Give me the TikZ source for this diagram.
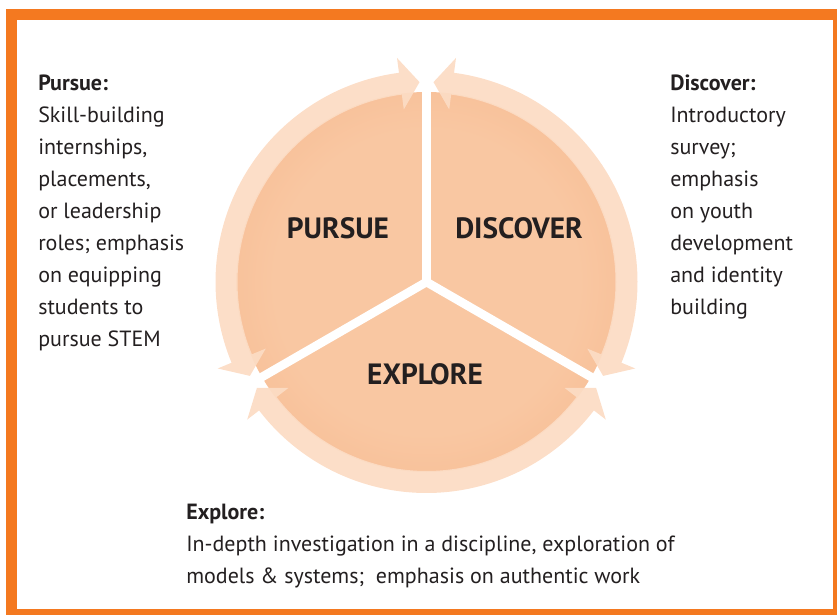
\documentclass[tikz,border=0pt]{standalone}
\usepackage{fontspec}
\setmainfont{PT Sans}
\definecolor{borderc}{HTML}{F47920}
\definecolor{pieIn}{HTML}{F9C7A2}
\definecolor{pieOut}{HTML}{F4AA7A}
\definecolor{ringc}{HTML}{FCDCC4}
\definecolor{txt}{HTML}{231F20}
\pgfdeclareradialshading{pieshade}{\pgfpoint{0bp}{0bp}}{color(0bp)=(pieIn); color(20bp)=(pieIn); color(50bp)=(pieOut); color(100bp)=(pieOut)}
\tikzset{
  sidetext/.style={anchor=north west, inner sep=0pt, align=left, text=txt,
    font=\fontsize{16.5}{24}\selectfont},
  sectorlabel/.style={text=txt, inner sep=0pt, font=\fontsize{22}{24}\selectfont\bfseries},
  ringarrow/.style={fill=ringc, fill opacity=0.93},
  gapline/.style={white, line width=6.5pt, line cap=round}
}
\begin{document}
\begin{tikzpicture}[x=0.75pt,y=0.75pt]
\useasboundingbox (0,0) rectangle (837,614);
\begin{scope}
  \clip (0,0) rectangle (837,614);
  \draw[borderc, line width=8.25pt] (11.5,599.5) rectangle (838.5,-0.5);
\end{scope}
\begin{scope}[shift={(426.5,332)}]
  \coordinate (C) at (0,0);
  \shade[shading=pieshade] (C) circle[radius=190];
  \foreach \g in {90,210,330} \draw[gapline] (C) -- (\g:200);
  \foreach \a/\b in {90/210,210/330,-30/90} {
    \fill[ringarrow] (\a+2:200) -- (\a+7.5:226) -- (\a+7.5:211)
      arc[start angle=\a+7.5, end angle=\b-7.5, radius=211]
      -- (\b-7.5:226) -- (\b-2:200) -- (\b-7.5:174) -- (\b-7.5:189)
      arc[start angle=\b-7.5, end angle=\a+7.5, radius=189]
      -- (\a+7.5:174) -- cycle;
  }
\end{scope}
\node[sectorlabel] (pursue) at (338,386) {PURSUE};
\node[sectorlabel] (discover) at (519,386) {DISCOVER};
\node[sectorlabel] (explore) at (425,240) {EXPLORE};
\node[sidetext] (pursuetext) at (38,539) {\textbf{Pursue:}\\Skill-building\\internships,\\placements,\\or leadership\\roles; emphasis\\on equipping\\students to\\pursue STEM};
\node[sidetext] (discovertext) at (670,539) {\textbf{Discover:}\\Introductory\\survey;\\emphasis\\on youth\\development\\and identity\\building};
\node[sidetext] (exploretext) at (186,110) {\textbf{Explore:}\\In-depth investigation in a discipline, exploration of\\models \& systems;\ \ emphasis on authentic work};
\end{tikzpicture}
\end{document}
